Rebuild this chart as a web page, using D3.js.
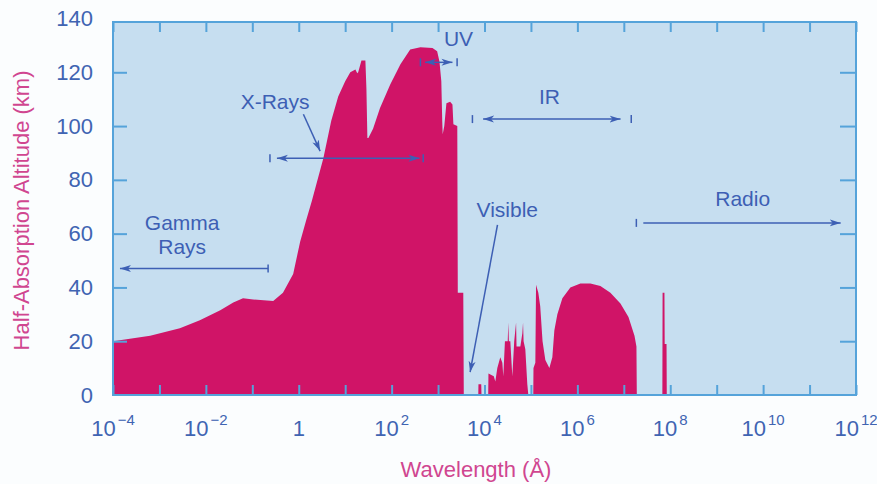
<!DOCTYPE html>
<html>
<head>
<meta charset="utf-8">
<script src="https://cdn.jsdelivr.net/npm/d3@7/dist/d3.min.js"></script>
<style>
  body { margin: 0; background: #fbfdfe; }
  text { font-family: "Liberation Sans", Arial, sans-serif; }
</style>
</head>
<body>
<svg id="chart" width="877" height="484"></svg>
<script>
// absorption profile: wavelength as log10(Å), half-absorption altitude in km
const wavelengthExp = [
  -4, -3.6, -3.2, -2.56, -2.13, -1.69, -1.41, -1.2, -0.98, -0.55, -0.34, -0.12, 0.03, 0.16, 0.28, 0.53,
  0.7, 0.85, 1.0, 1.11, 1.22, 1.26, 1.28, 1.35, 1.435, 1.457, 1.478, 1.5, 1.6, 1.75, 1.97, 2.19, 2.4,
  2.62, 2.88, 2.98, 3.03, 3.07, 3.09, 3.1, 3.134, 3.18, 3.26, 3.31, 3.33, 3.414, 3.425, 3.543, 3.554,
  3.866, 3.87, 3.93, 3.935,
  4.08, 4.085, 4.2, 4.233, 4.276, 4.34, 4.384, 4.405, 4.44, 4.5, 4.513, 4.525, 4.556, 4.599, 4.64, 4.68, 4.69,
  4.707, 4.772, 4.815, 4.83, 4.842, 4.879, 4.922, 4.944, 4.987,
  5.05, 5.055, 5.095, 5.11, 5.159, 5.2, 5.25, 5.31, 5.397, 5.461, 5.504, 5.569, 5.677, 5.849, 6.065, 6.28,
  6.496, 6.711, 6.927, 7.1, 7.23, 7.272, 7.28,
  7.83, 7.835, 7.875, 7.88, 7.92, 7.925
];
const altitudeKm = [
  20, 21, 22, 24.8, 27.8, 31.5, 34.4, 36, 35.5, 35, 38, 45, 57, 65, 72, 88,
  102, 111, 116.7, 120, 121, 119.6, 120, 124.4, 124.4, 114, 95.6, 95.6, 99, 106.7, 115.5, 123, 128.5,
  129.3, 129, 127.8, 124, 116.7, 101.8, 97, 100, 108.5, 109, 108, 100.7, 100, 38, 38, 0,
  0, 4, 4, 0,
  0, 8, 7, 5, 10, 14, 12, 7, 20, 20, 27, 20, 20, 7, 20, 27, 18,
  18, 18, 23, 27, 20, 17, 4, 0, 0,
  0, 10, 12, 41, 38, 33, 20, 13, 10, 14, 24, 30, 36, 40, 41.5, 41.5,
  40.5, 38, 34, 29, 22, 18, 0,
  0, 38, 38, 19, 19, 0
];

const yTicks = [0, 20, 40, 60, 80, 100, 120, 140];
const xDecades = d3.range(-4, 13);
const xLabelExps = [-4, -2, 0, 2, 4, 6, 8, 10, 12];

// spectral band annotations (exponent of Å, km)
const bandNames = ["Gamma", "Rays", "X-Rays", "UV", "IR", "Visible", "Radio"];
const bandNameExp = [-2.51, -2.51, -0.51, 3.44, 5.4, 4.49, 9.56];
const bandNameAlt = [64, 55, 109, 132.6, 111, 69, 73];

// arrows: [startExp, startAlt, endExp, endAlt, heads]
const bandArrows = [
  [-0.66, 47, -3.85, 47, "end"],
  [-0.47, 88, 2.6, 88, "both"],
  [2.72, 123.7, 3.31, 123.7, "both"],
  [3.97, 102.6, 6.93, 102.6, "both"],
  [7.42, 64, 11.67, 64, "end"],
  [0.1, 104.4, 0.46, 90.7, "end"],
  [4.28, 63.3, 3.69, 8.5, "end"]
];
const bandBarExp = [-0.66, -0.62, 2.68, 2.62, 3.41, 3.74, 7.16, 7.27];
const bandBarAlt = [47, 88, 88, 123.7, 123.7, 102.6, 102.6, 64];

const frameColor = "#55a3da";
const labelColor = "#4064b2";
const titleColor = "#d04690";
const noteColor = "#3d5fb4";

const svg = d3.select("#chart");
const x = d3.scaleLog().domain([1e-4, 1e12]).range([113, 856]);
const y = d3.scaleLinear().domain([0, 140]).range([395, 18.5]);
const frameTopValue = 138.7;

svg.append("rect")
  .attr("x", x(1e-4)).attr("y", y(frameTopValue))
  .attr("width", x(1e12) - x(1e-4)).attr("height", y(0) - y(frameTopValue))
  .attr("fill", "#c6def0");

const profile = wavelengthExp.map((e, i) => ({ e: e, v: altitudeKm[i] }));
const area = d3.area()
  .x(d => x(Math.pow(10, d.e)))
  .y0(y(0))
  .y1(d => y(d.v));

svg.append("path")
  .datum(profile)
  .attr("d", area)
  .attr("fill", "#d01467");

// ticks, all pointing inward
const tickStyle = g => {
  g.select(".domain").remove();
  g.selectAll(".tick line").attr("stroke", frameColor).attr("stroke-width", 2);
};

svg.append("g")
  .attr("transform", `translate(0,${y(0)})`)
  .call(d3.axisBottom(x).tickValues(xDecades.map(e => Math.pow(10, e))).tickSize(-10).tickFormat(""))
  .call(tickStyle);
svg.append("g")
  .attr("transform", `translate(0,${y(frameTopValue)})`)
  .call(d3.axisTop(x).tickValues(xDecades.map(e => Math.pow(10, e))).tickSize(-10).tickFormat(""))
  .call(tickStyle);

const yAxis = svg.append("g")
  .attr("transform", `translate(${x(1e-4)},0)`)
  .call(d3.axisLeft(y).tickValues(yTicks).tickSize(-14).tickPadding(20))
  .call(tickStyle);
yAxis.selectAll(".tick text")
  .attr("fill", labelColor)
  .attr("font-size", 22)
  .attr("font-family", "Liberation Sans, Arial, sans-serif");
yAxis.selectAll(".tick").filter(d => d === 0 || d === 140).select("line").remove();

svg.append("g")
  .attr("transform", `translate(${x(1e12)},0)`)
  .call(d3.axisRight(y).tickValues(yTicks.filter(d => d > 0 && d < 140)).tickSize(-16).tickFormat(""))
  .call(tickStyle);

svg.append("rect")
  .attr("x", x(1e-4)).attr("y", y(frameTopValue))
  .attr("width", x(1e12) - x(1e-4)).attr("height", y(0) - y(frameTopValue))
  .attr("fill", "none")
  .attr("stroke", frameColor)
  .attr("stroke-width", 2);

// x tick labels as powers of ten
const xl = svg.append("g").selectAll("text")
  .data(xLabelExps)
  .join("text")
  .attr("x", e => x(Math.pow(10, e)))
  .attr("y", 436)
  .attr("text-anchor", "middle")
  .attr("fill", labelColor)
  .attr("font-size", 22);
xl.each(function (e) {
  const t = d3.select(this);
  if (e === 0) { t.text("1"); return; }
  t.append("tspan").text("10");
  t.append("tspan")
    .attr("dx", 2).attr("dy", -11)
    .attr("font-size", 15)
    .text(e < 0 ? "\u2212" + (-e) : String(e));
});

// axis titles
svg.append("text")
  .attr("x", 476).attr("y", 477)
  .attr("text-anchor", "middle")
  .attr("fill", titleColor)
  .attr("font-size", 22)
  .text("Wavelength (\u00C5)");

svg.append("text")
  .attr("transform", `translate(29,${(y(0) + y(frameTopValue)) / 2 + 2}) rotate(-90)`)
  .attr("text-anchor", "middle")
  .attr("fill", titleColor)
  .attr("font-size", 22)
  .text("Half-Absorption Altitude (km)");

// annotations
const defs = svg.append("defs");
defs.append("marker")
  .attr("id", "head")
  .attr("markerUnits", "userSpaceOnUse")
  .attr("markerWidth", 12).attr("markerHeight", 8)
  .attr("refX", 11).attr("refY", 4)
  .attr("orient", "auto-start-reverse")
  .append("path")
  .attr("d", "M0,0.5 L11,4 L0,7.5 L3,4 Z")
  .attr("fill", noteColor);

svg.append("g").selectAll("line")
  .data(bandArrows)
  .join("line")
  .attr("x1", d => x(Math.pow(10, d[0])))
  .attr("y1", d => y(d[1]))
  .attr("x2", d => x(Math.pow(10, d[2])))
  .attr("y2", d => y(d[3]))
  .attr("stroke", noteColor)
  .attr("stroke-width", 1.5)
  .attr("marker-end", "url(#head)")
  .attr("marker-start", d => d[4] === "both" ? "url(#head)" : null);

svg.append("g").selectAll("line")
  .data(bandBarExp)
  .join("line")
  .attr("x1", e => x(Math.pow(10, e)))
  .attr("x2", e => x(Math.pow(10, e)))
  .attr("y1", (e, i) => y(bandBarAlt[i]) - 4)
  .attr("y2", (e, i) => y(bandBarAlt[i]) + 4)
  .attr("stroke", noteColor)
  .attr("stroke-width", 1.5);

svg.append("g").selectAll("text")
  .data(bandNames)
  .join("text")
  .attr("x", (d, i) => x(Math.pow(10, bandNameExp[i])))
  .attr("y", (d, i) => y(bandNameAlt[i]))
  .attr("dy", "0.35em")
  .attr("text-anchor", "middle")
  .attr("fill", noteColor)
  .attr("font-size", 21)
  .text(d => d);
</script>
</body>
</html>
